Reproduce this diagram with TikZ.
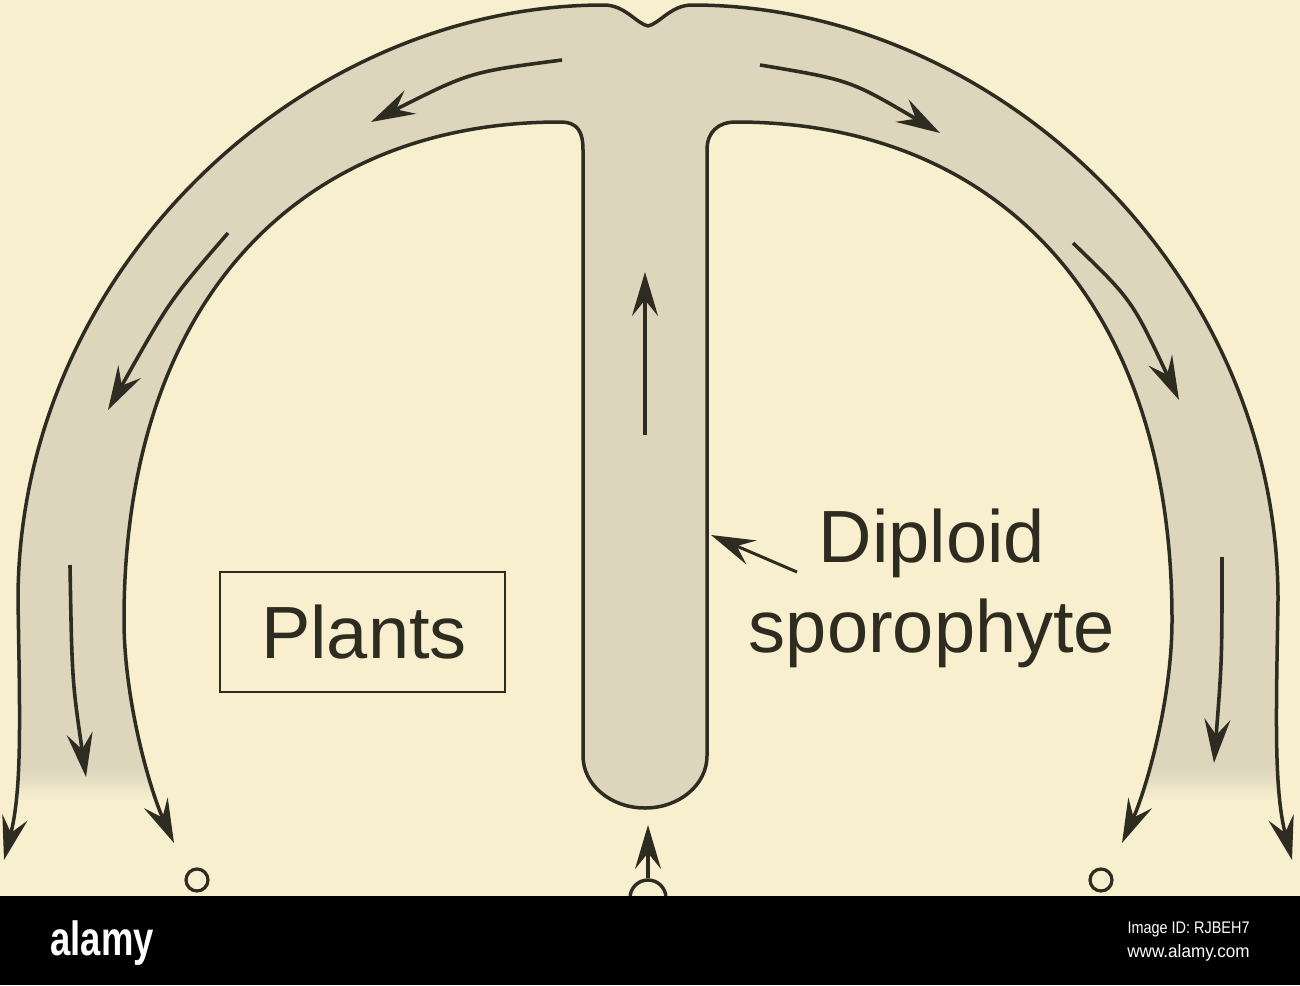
\documentclass[tikz,border=0pt]{standalone}
\usepackage{fontspec}
\usepackage{graphicx}
\setmainfont{Liberation Sans}
\usetikzlibrary{arrows.meta}
\definecolor{bg}{RGB}{247,239,206}
\definecolor{bandc}{RGB}{221,214,189}
\definecolor{ink}{RGB}{46,44,32}
\newcommand{\myband}{(4,860) .. controls (22,790) and (20,720) .. (18,600)
 .. controls (18,270) and (302,5) .. (604,5)
 .. controls (625,5) and (637,24) .. (648,26)
 .. controls (659,24) and (671,5) .. (692,5)
 .. controls (994,5) and (1278,270) .. (1278,600)
 .. controls (1276,720) and (1274,790) .. (1292,860)
 -- (1122,843) .. controls (1146,790) and (1172,700) .. (1172,620)
 .. controls (1172,300) and (996,122) .. (736,122)
 .. controls (718,122) and (707,132) .. (707,150)
 -- (707,756) arc[start angle=0,end angle=180,x radius=62,y radius=52]
 -- (583,150) .. controls (583,132) and (578,122) .. (560,122)
 .. controls (300,122) and (124,300) .. (124,620)
 .. controls (124,700) and (150,790) .. (174,843) -- cycle}
\begin{document}
\begin{tikzpicture}[x=0.5pt,y=-0.5pt,
  outline/.style={draw=ink,line width=1.75pt,line join=round},
  tipA/.tip={Stealth[length=22pt,width=13pt,inset=8pt]},
  flow/.style={draw=ink,line width=1.8pt,-tipA},
  labeltext/.style={font=\fontsize{37}{44}\selectfont,text=ink,anchor=base,inner sep=0pt},
  spore/.style={circle,draw=ink,line width=1.6pt,minimum size=11pt,inner sep=0pt},
  stamp/.style={text=white,inner sep=0pt}]
\useasboundingbox (0,0) rectangle (1300,985);
\fill[bg] (0,0) rectangle (1300,985);
% shaded band
\begin{scope}
  \clip \myband;
  \fill[bandc] (0,0) rectangle (1300,770);
  \shade[top color=bandc,bottom color=bg] (0,770) rectangle (1300,800);
  \fill[bandc] (570,700) rectangle (720,830);
\end{scope}
% outlines
\draw[outline,tipA-tipA] (4,860) .. controls (22,790) and (20,720) .. (18,600)
 .. controls (18,270) and (302,5) .. (604,5)
 .. controls (625,5) and (637,24) .. (648,26)
 .. controls (659,24) and (671,5) .. (692,5)
 .. controls (994,5) and (1278,270) .. (1278,600)
 .. controls (1276,720) and (1274,790) .. (1292,860);
\draw[outline,tipA-tipA] (174,843) .. controls (150,790) and (124,700) .. (124,620)
 .. controls (124,300) and (300,122) .. (560,122)
 .. controls (578,122) and (583,132) .. (583,150)
 -- (583,756) arc[start angle=180,end angle=0,x radius=62,y radius=52]
 -- (707,150) .. controls (707,132) and (718,122) .. (736,122)
 .. controls (996,122) and (1172,300) .. (1172,620)
 .. controls (1172,700) and (1146,790) .. (1122,843);
% flow arrows in the band
\coordinate (l1s) at (562,60);  \coordinate (l1e) at (371,122);
\coordinate (l2s) at (228,233); \coordinate (l2e) at (108,410);
\coordinate (l3s) at (70,565);  \coordinate (l3e) at (86,777);
\coordinate (r1s) at (760,65);  \coordinate (r1e) at (940,133);
\coordinate (r2s) at (1073,243);\coordinate (r2e) at (1179,400);
\coordinate (r3s) at (1222,557);\coordinate (r3e) at (1214,763);
\coordinate (us) at (645,435);  \coordinate (ue) at (645,272);
\draw[flow] (l1s) .. controls (470,72) .. (l1e);
\draw[flow] (l2s) .. controls (170,300) .. (l2e);
\draw[flow] (l3s) .. controls (72,680) .. (l3e);
\draw[flow] (r1s) .. controls (850,80) .. (r1e);
\draw[flow] (r2s) .. controls (1132,300) .. (r2e);
\draw[flow] (r3s) .. controls (1222,660) .. (r3e);
\draw[flow] (us) -- (ue);
% spores and zygote
\node[spore] (gl) at (197,880) {};
\node[spore] (gr) at (1101,880) {};
\node[circle,draw=ink,line width=1.7pt,minimum size=18pt,inner sep=0pt] (zyg) at (648,898) {};
\coordinate (stembot) at (648,825);
\draw[flow] (zyg.north) -- (stembot);
% labels
\node[draw=ink,line width=1.2pt,minimum width=142.5pt,minimum height=60pt,inner sep=0pt] (plantsbox) at (362.5,632) {};
\node[labeltext] (plants) at (364,658) {Plants};
\node[labeltext] (dip) at (932,562) {Diploid};
\node[labeltext] (spo) at (932,652) {sporophyte};
\coordinate (dtail) at (797,572);
\coordinate (dtip) at (711,535);
\draw[flow,line width=1.5pt] (dtail) -- (dtip);
% bottom strip
\fill[black] (0,896) rectangle (1300,985);
\node[stamp,anchor=base west,font=\bfseries\fontsize{24}{24}\selectfont] (logo) at (50,955) {\scalebox{0.76}[1]{alamy}};
\node[stamp,anchor=base east,font=\fontsize{8.4}{9}\selectfont] (imgid) at (1250,933) {\scalebox{0.86}[1]{Image ID: RJBEH7}};
\node[stamp,anchor=base east,font=\fontsize{9}{10}\selectfont] (www) at (1250,957) {\scalebox{0.95}[1]{www.alamy.com}};
\end{tikzpicture}
\end{document}
